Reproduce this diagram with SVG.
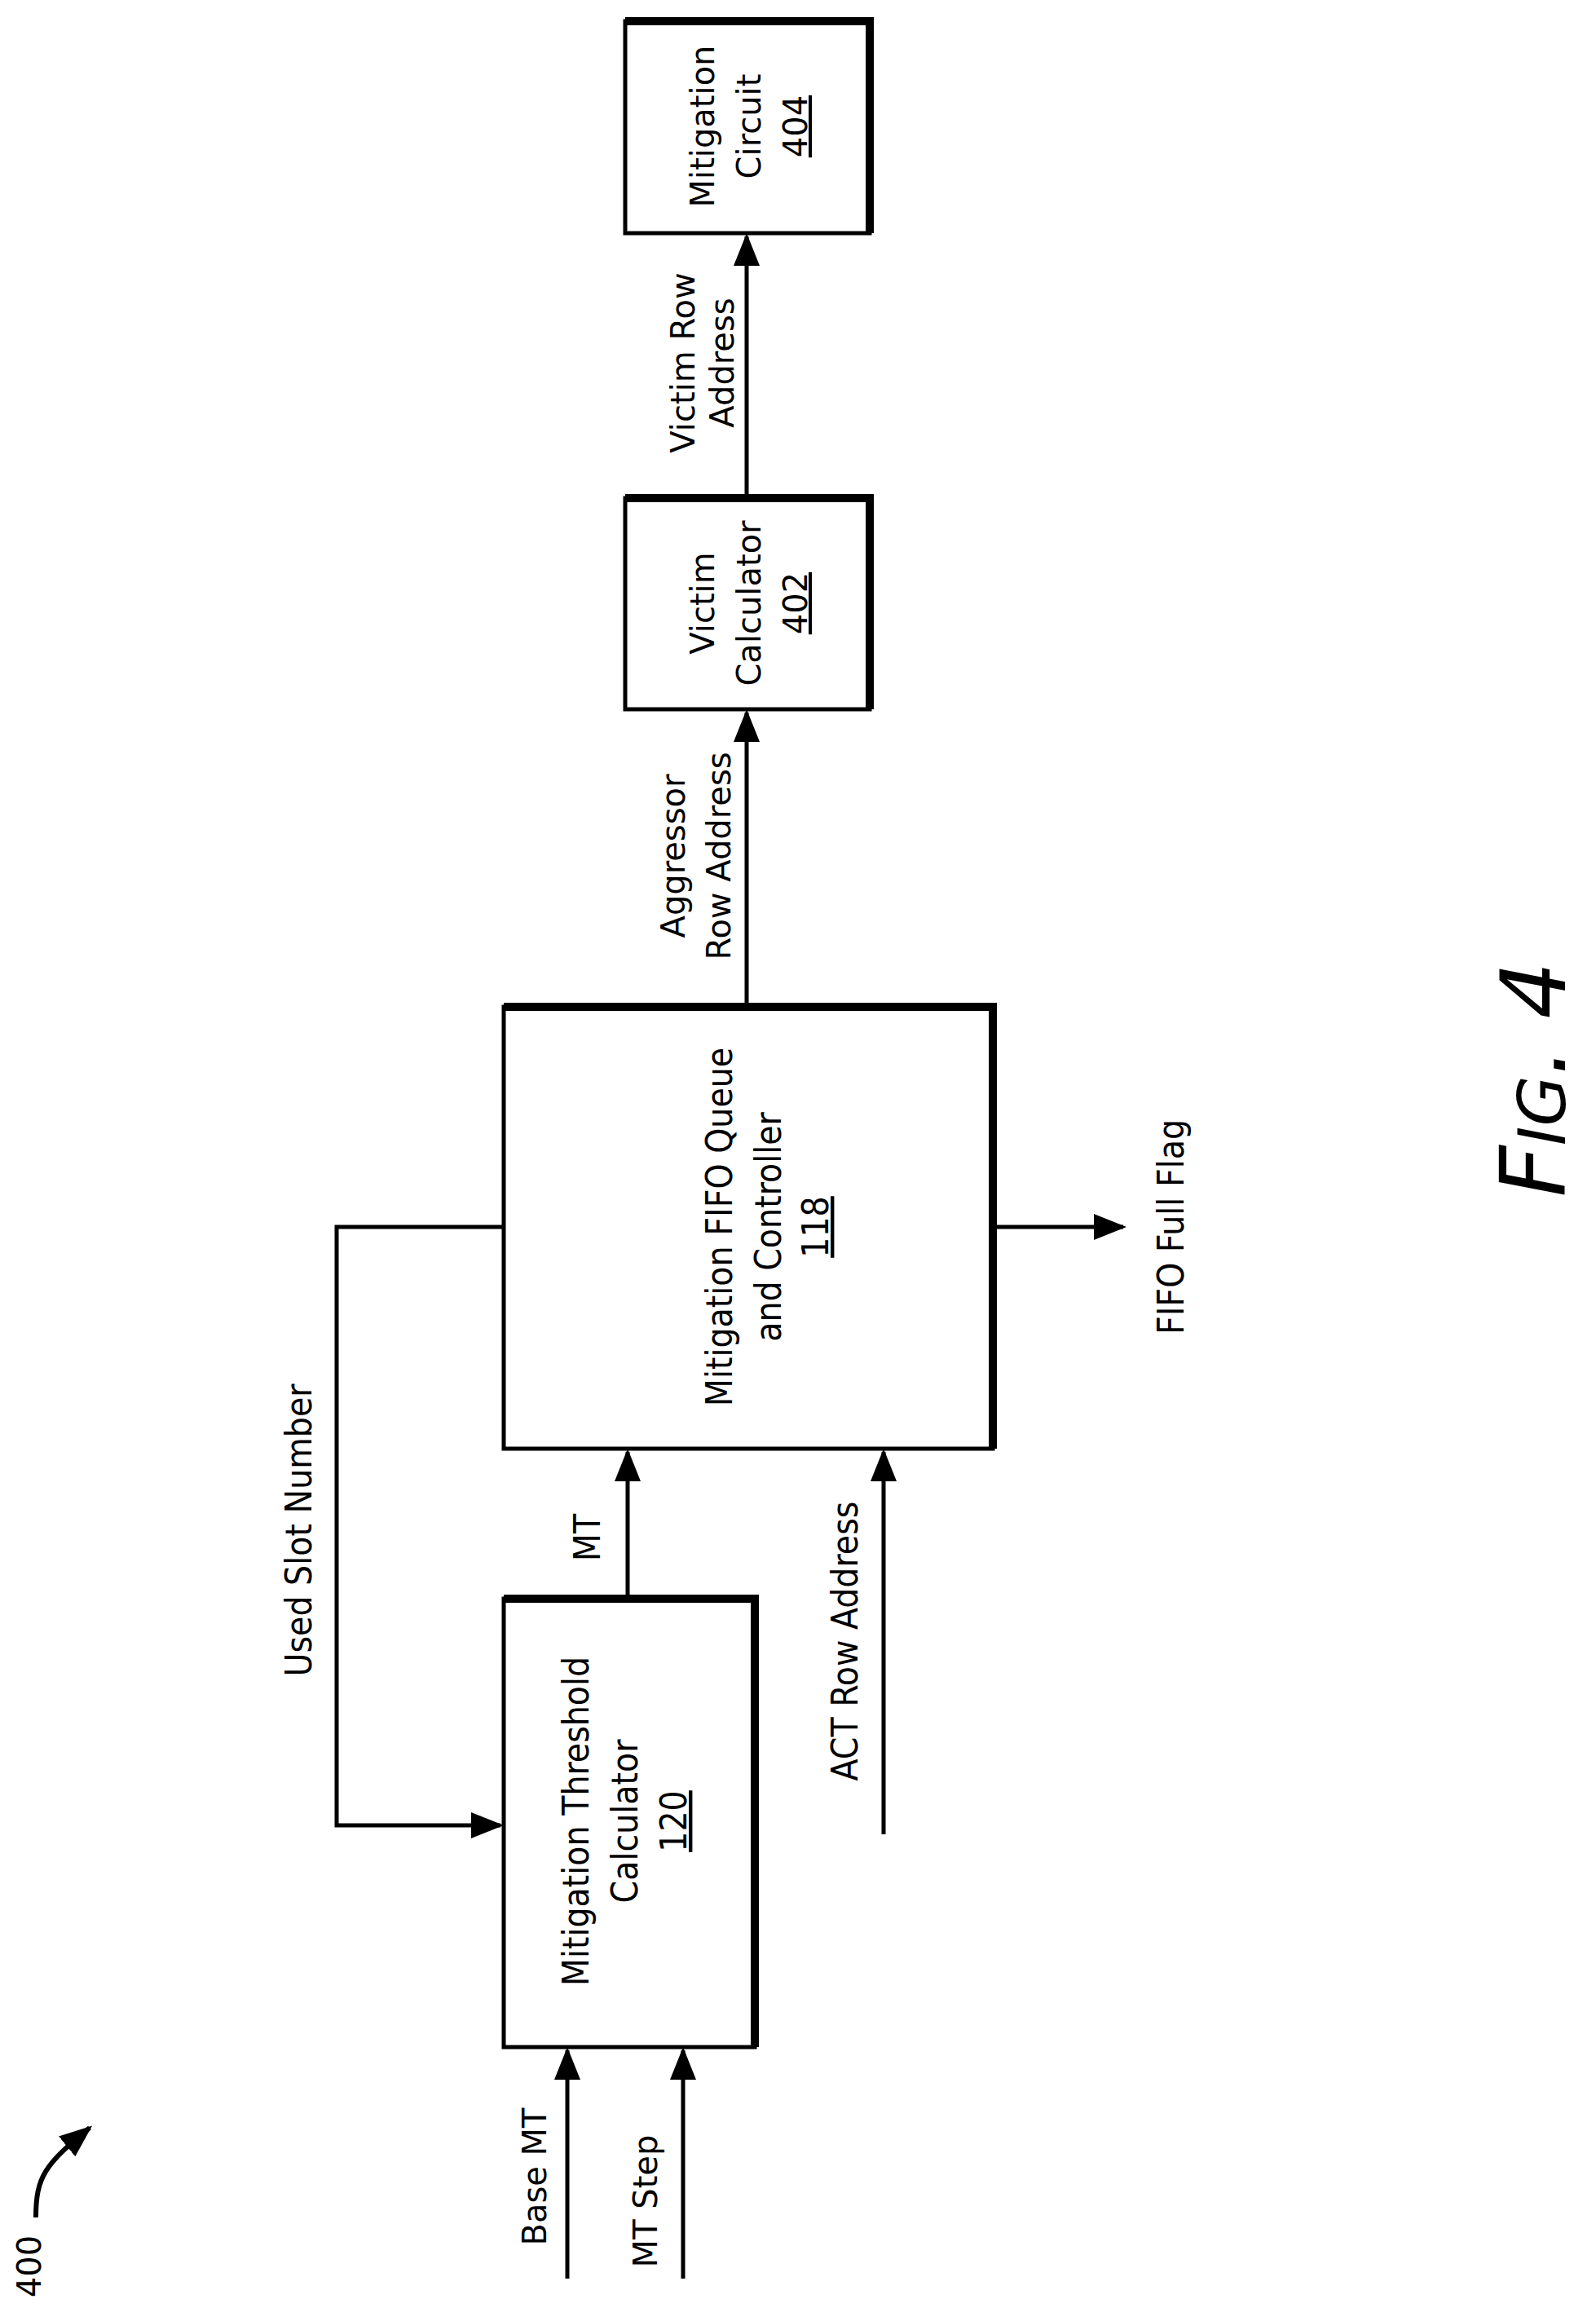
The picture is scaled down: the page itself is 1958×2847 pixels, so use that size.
<svg xmlns="http://www.w3.org/2000/svg" width="1958" height="2847" viewBox="0 0 1958 2847">
<style>
.b{fill:none;stroke:#000;stroke-width:5}
.t{stroke:#000;stroke-width:10;fill:none}
.c{stroke:#000;stroke-width:5;fill:none}
text{font-family:"DejaVu Sans",sans-serif;font-size:40px;text-anchor:middle}
.n{font-family:"DejaVu Sans Condensed","Liberation Sans Narrow",sans-serif;font-size:44px}
</style>
<defs><marker id="a" markerWidth="10" markerHeight="10" refX="9" refY="5" orient="auto" markerUnits="userSpaceOnUse" viewBox="0 0 10 10"><path d="M0,0L10,5L0,10z"/></marker>
<marker id="ah" viewBox="0 0 10 10" refX="9" refY="5" markerWidth="40" markerHeight="40" orient="auto" markerUnits="userSpaceOnUse"><path d="M0,1L10,5L0,9z"/></marker></defs>
<g id="mc"><rect class="b" x="767" y="26" width="300" height="260"/><path class="t" d="M767,26H1067V286"/>
<text transform="rotate(-90 876 155)" x="876" y="155">Mitigation</text><text transform="rotate(-90 933 155)" x="933" y="155">Circuit</text><text transform="rotate(-90 990 155)" x="990" y="155" text-decoration="underline">404</text></g>
<g id="vc"><rect class="b" x="767" y="611" width="300" height="259"/><path class="t" d="M767,611H1067V870"/>
<text transform="rotate(-90 876 740)" x="876" y="740">Victim</text><text transform="rotate(-90 933 740)" x="933" y="740">Calculator</text><text transform="rotate(-90 990 740)" x="990" y="740" text-decoration="underline">402</text></g>
<g id="fifo"><rect class="b" x="618" y="1235" width="600" height="542"/><path class="t" d="M618,1235H1218V1777"/>
<text class="n" transform="rotate(-90 898 1505)" x="898" y="1505">Mitigation FIFO Queue</text><text class="n" transform="rotate(-90 958 1505)" x="958" y="1505">and Controller</text><text class="n" transform="rotate(-90 1016 1505)" x="1016" y="1505" text-decoration="underline">118</text></g>
<g id="mtc"><rect class="b" x="618" y="1961" width="308" height="550"/><path class="t" d="M618,1961H926V2511"/>
<text class="n" transform="rotate(-90 722 2234)" x="722" y="2234">Mitigation Threshold</text><text class="n" transform="rotate(-90 782 2234)" x="782" y="2234">Calculator</text><text class="n" transform="rotate(-90 842 2234)" x="842" y="2234" text-decoration="underline">120</text></g>
<g id="connectors">
<path class="c" d="M916,611V290" marker-end="url(#ah)"/>
<path class="c" d="M916,1235V874" marker-end="url(#ah)"/>
<path class="c" d="M1218,1505H1378" marker-end="url(#ah)"/>
<path class="c" d="M618,1505H413V2239H614" marker-end="url(#ah)"/>
<path class="c" d="M770,1958V1781" marker-end="url(#ah)"/>
<path class="c" d="M1084,2250V1781" marker-end="url(#ah)"/>
<path class="c" d="M696,2795V2515" marker-end="url(#ah)"/>
<path class="c" d="M838,2795V2515" marker-end="url(#ah)"/>
<path d="M44,2720C44,2670 55,2655 110,2610" stroke="#000" stroke-width="6" fill="none" marker-end="url(#ah)"/>
</g>
<g id="labels">
<text transform="rotate(-90 852 445)" x="852" y="445">Victim Row</text><text transform="rotate(-90 900 445)" x="900" y="445">Address</text>
<text transform="rotate(-90 840 1050)" x="840" y="1050">Aggressor</text><text transform="rotate(-90 896 1050)" x="896" y="1050">Row Address</text>
<text class="n" transform="rotate(-90 1452 1505)" x="1452" y="1505">FIFO Full Flag</text>
<text class="n" transform="rotate(-90 382 1877)" x="382" y="1877">Used Slot Number</text>
<text class="n" transform="rotate(-90 736 1886)" x="736" y="1886">MT</text>
<text class="n" transform="rotate(-90 1052 2013)" x="1052" y="2013">ACT Row Address</text>
<text transform="rotate(-90 670 2670)" x="670" y="2670">Base MT</text>
<text transform="rotate(-90 806 2700)" x="806" y="2700">MT Step</text>
<text transform="rotate(-90 50 2780)" x="50" y="2780">400</text>
<text transform="rotate(-90 1920 1324)" x="1920" y="1324" style="font-family:'DejaVu Sans',sans-serif;font-style:italic;font-size:110px">F<tspan font-size="80">IG</tspan>. 4</text>
</g>
</svg>
